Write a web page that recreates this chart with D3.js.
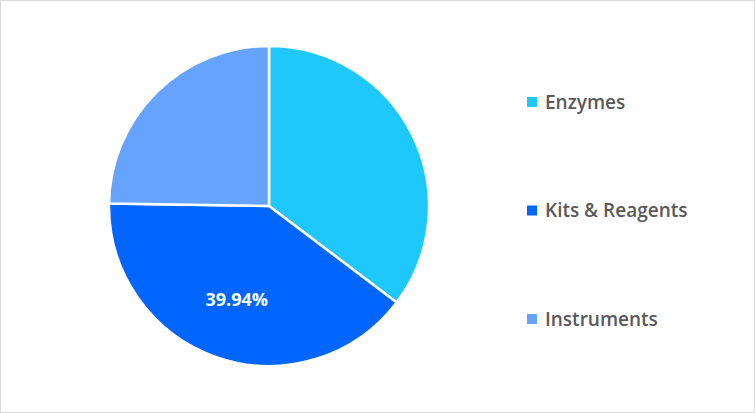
<!DOCTYPE html>
<html><head><meta charset="utf-8">
<script src="https://cdn.jsdelivr.net/npm/d3@7"></script>
<style>body{margin:0;background:#fff}</style></head>
<body><svg id="c" width="755" height="413"></svg>
<script>
const categories = ["Enzymes","Kits & Reagents","Instruments"];
const values = [35.3, 39.94, 24.76];
const colors = ["#1ec8fc","#0066ff","#66a3ff"];
const labels = ["", "39.94%", ""];

const svg = d3.select("#c");
svg.append("rect").attr("x",0.5).attr("y",0.5).attr("width",754).attr("height",412)
  .attr("fill","#fff").attr("stroke","#d9d9d9");
const cx=269, cy=206, r=160;
const pie = d3.pie().sort(null)(values);
const arc = d3.arc().innerRadius(0).outerRadius(r);
const g = svg.append("g").attr("transform",`translate(${cx},${cy})`);
g.selectAll("path").data(pie).join("path").attr("d",arc)
  .attr("fill",(d,i)=>colors[i]).attr("stroke","#fff").attr("stroke-width",2.5);
const la = d3.arc().innerRadius(r*0.62).outerRadius(r*0.62);
g.selectAll("text").data(pie).join("text")
  .attr("transform",d=>`translate(${la.centroid(d)})`)
  .attr("text-anchor","middle").attr("dy","0.35em")
  .attr("font-family","Open Sans").attr("font-weight","bold").attr("font-size",18)
  .attr("fill","#fff").text((d,i)=>labels[i]);
const ly = d3.scalePoint().domain(categories).range([102,319]);
const lg = svg.append("g").selectAll("g").data(categories).join("g")
  .attr("transform",d=>`translate(527,${ly(d)})`);
lg.append("rect").attr("x",0).attr("y",-5).attr("width",10).attr("height",10)
  .attr("fill",(d,i)=>colors[i]);
lg.append("text").attr("x",18).attr("dy","0.35em")
  .attr("font-family","Open Sans").attr("font-weight",600).attr("font-size",19)
  .attr("fill","#595959").text(d=>d);
</script></body></html>
